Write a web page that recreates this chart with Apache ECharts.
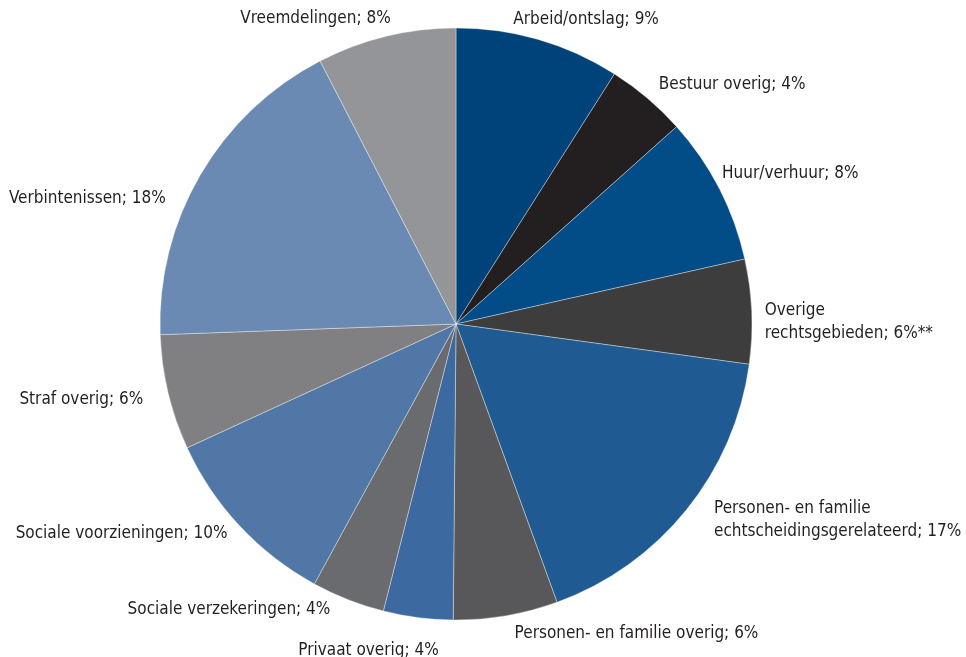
<!DOCTYPE html>
<html>
<head>
<meta charset="utf-8">
<script src="https://cdn.jsdelivr.net/npm/echarts@6/dist/echarts.min.js"></script>
<style>
html,body{margin:0;padding:0;background:#fff;}
#chart{width:966px;height:657px;}
</style>
</head>
<body>
<div id="chart"></div>
<script>
const categories = [
  "Arbeid/ontslag", "Bestuur overig", "Huur/verhuur", "Overige rechtsgebieden",
  "Personen- en familie echtscheidingsgerelateerd", "Personen- en familie overig",
  "Privaat overig", "Sociale verzekeringen", "Sociale voorzieningen",
  "Straf overig", "Verbintenissen", "Vreemdelingen"
];
const values = [9.0, 4.4, 8.1, 5.7, 17.3, 5.7, 3.8, 4.0, 10.2, 6.3, 18.0, 7.6];
const labelTexts = [
  "Arbeid/ontslag; 9%", "Bestuur overig; 4%", "Huur/verhuur; 8%",
  "Overige\nrechtsgebieden; 6%**", "Personen- en familie\nechtscheidingsgerelateerd; 17%",
  "Personen- en familie overig; 6%", "Privaat overig; 4%", "Sociale verzekeringen; 4%",
  "Sociale voorzieningen; 10%", "Straf overig; 6%", "Verbintenissen; 18%", "Vreemdelingen; 8%"
];
const colors = ["#00427a", "#231f20", "#024c88", "#3d3d3e", "#1f5b92", "#58585a",
  "#3b69a0", "#6a6b6e", "#5177a6", "#808083", "#6a8ab3", "#949598"];

// small label nudges (text placement style only)
const labelNudge = [[-33, -11], [0, -6], [-11, -10], [-2, 11], [15, 4], [2, 8],
  [27, 23], [-9, 1], [0, 1], [-10, 5], [-21, 29], [12, -8]];

const chart = echarts.init(document.getElementById('chart'), null, {renderer: 'canvas'});
chart.setOption({
  animation: false,
  backgroundColor: '#ffffff',
  series: [{
    type: 'pie',
    center: [456, 324],
    radius: 296,
    startAngle: 90,
    clockwise: true,
    avoidLabelOverlap: false,
    data: categories.map((c, i) => ({
      name: c, value: values[i],
      itemStyle: {color: colors[i]},
      label: {formatter: labelTexts[i]}
    })),
    itemStyle: {borderColor: 'rgba(255,255,255,0.6)', borderWidth: 0.6},
    label: {
      show: true, position: 'outside',
      fontFamily: 'DejaVu Sans Condensed', fontSize: 17, color: '#231f20',
      lineHeight: 23
    },
    labelLine: {show: false, length: 10, length2: 0},
    labelLayout: function (p) {
      const n = labelNudge[p.dataIndex];
      return {hideOverlap: false, dx: n[0], dy: n[1]};
    },
    emphasis: {disabled: true}
  }]
});
</script>
</body>
</html>
